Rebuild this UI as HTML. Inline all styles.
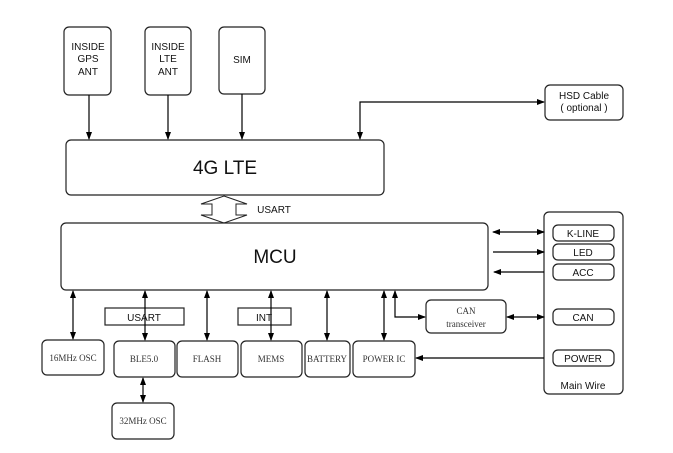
<!DOCTYPE html>
<html><head><style>
body{margin:0;background:#fff}
svg{display:block}
text{font-family:"Liberation Sans",sans-serif;fill:#111}
.s{font-family:"Liberation Serif",serif;font-size:9px;fill:#333}
</style></head><body>
<svg width="673" height="453" viewBox="0 0 673 453" xmlns="http://www.w3.org/2000/svg">
<defs>
<marker id="a" markerWidth="8" markerHeight="8" refX="7" refY="4" orient="auto-start-reverse" markerUnits="userSpaceOnUse">
<path d="M0,1 L8,4 L0,7 Z" fill="#000"/></marker>
</defs>
<g fill="none" stroke="#222" stroke-width="1.2">
<rect x="64" y="27" width="47" height="68" rx="5"/>
<rect x="145" y="27" width="46" height="68" rx="5"/>
<rect x="219" y="27" width="46" height="67" rx="5"/>
<rect x="545" y="85" width="78" height="35" rx="5"/>
<rect x="66" y="140" width="318" height="55" rx="5"/>
<rect x="61" y="223" width="427" height="67" rx="5"/>
<rect x="544" y="212" width="79" height="182" rx="5"/>
<rect x="553" y="225" width="61" height="16" rx="5"/>
<rect x="553" y="244" width="61" height="16" rx="5"/>
<rect x="553" y="264" width="61" height="16" rx="5"/>
<rect x="553" y="309" width="61" height="16" rx="5"/>
<rect x="553" y="350" width="61" height="16" rx="5"/>
<rect x="42" y="340" width="62" height="35" rx="5"/>
<rect x="114" y="341" width="61" height="36" rx="5"/>
<rect x="177" y="341" width="61" height="36" rx="5"/>
<rect x="241" y="341" width="61" height="36" rx="5"/>
<rect x="305" y="341" width="45" height="36" rx="5"/>
<rect x="353" y="341" width="62" height="36" rx="5"/>
<rect x="112" y="403" width="62" height="36" rx="5"/>
<rect x="426" y="300" width="80" height="33" rx="5"/>
<rect x="105" y="308" width="79" height="17"/>
<rect x="238" y="308" width="53" height="17"/>
<path d="M224,196 L247,204 L236,204 L236,215 L247,215 L224,223 L201,215 L212,215 L212,204 L201,204 Z" stroke-width="1"/>
</g>
<g stroke="#000" stroke-width="1.2" fill="none">
<line x1="89" y1="95" x2="89" y2="139" marker-end="url(#a)"/>
<line x1="168" y1="95" x2="168" y2="139" marker-end="url(#a)"/>
<line x1="242" y1="94" x2="242" y2="139" marker-end="url(#a)"/>
<polyline points="360,139 360,102 544,102" marker-start="url(#a)" marker-end="url(#a)"/>
<line x1="493" y1="232" x2="544" y2="232" marker-start="url(#a)" marker-end="url(#a)"/>
<line x1="493" y1="252" x2="544" y2="252" marker-end="url(#a)"/>
<line x1="544" y1="272" x2="494" y2="272" marker-end="url(#a)"/>
<line x1="507" y1="317" x2="544" y2="317" marker-start="url(#a)" marker-end="url(#a)"/>
<line x1="544" y1="358" x2="416" y2="358" marker-end="url(#a)"/>
<polyline points="395,291 395,317 425,317" marker-start="url(#a)" marker-end="url(#a)"/>
<line x1="73" y1="291" x2="73" y2="339" marker-start="url(#a)" marker-end="url(#a)"/>
<line x1="145" y1="291" x2="145" y2="340" marker-start="url(#a)" marker-end="url(#a)"/>
<line x1="207" y1="291" x2="207" y2="340" marker-start="url(#a)" marker-end="url(#a)"/>
<line x1="271" y1="291" x2="271" y2="340" marker-start="url(#a)" marker-end="url(#a)"/>
<line x1="327" y1="291" x2="327" y2="340" marker-start="url(#a)" marker-end="url(#a)"/>
<line x1="384" y1="291" x2="384" y2="340" marker-start="url(#a)" marker-end="url(#a)"/>
<line x1="143" y1="378" x2="143" y2="402" marker-start="url(#a)" marker-end="url(#a)"/>
</g>
<g font-size="10" text-anchor="middle">
<text x="88" y="50">INSIDE</text><text x="88" y="62">GPS</text><text x="88" y="75">ANT</text>
<text x="168" y="50">INSIDE</text><text x="168" y="62">LTE</text><text x="168" y="75">ANT</text>
<text x="242" y="63">SIM</text>
<text x="584" y="99">HSD Cable</text><text x="584" y="111">( optional )</text>
<text x="274" y="213">USART</text>
<text x="583" y="237">K-LINE</text>
<text x="583" y="256">LED</text>
<text x="583" y="276">ACC</text>
<text x="583" y="321">CAN</text>
<text x="583" y="362">POWER</text>
<text x="583" y="389">Main Wire</text>
<text x="144" y="321">USART</text>
<text x="264" y="321">INT</text>
</g>
<text x="225" y="174" font-size="19" text-anchor="middle">4G LTE</text>
<text x="275" y="263" font-size="19" text-anchor="middle">MCU</text>
<g text-anchor="middle">
<text class="s" x="73" y="361">16MHz OSC</text>
<text class="s" x="144" y="362">BLE5.0</text>
<text class="s" x="207" y="362">FLASH</text>
<text class="s" x="271" y="362">MEMS</text>
<text class="s" x="327" y="362">BATTERY</text>
<text class="s" x="384" y="362">POWER IC</text>
<text class="s" x="143" y="424">32MHz OSC</text>
<text class="s" x="466" y="314">CAN</text>
<text class="s" x="466" y="327">transceiver</text>
</g>
</svg>
</body></html>
